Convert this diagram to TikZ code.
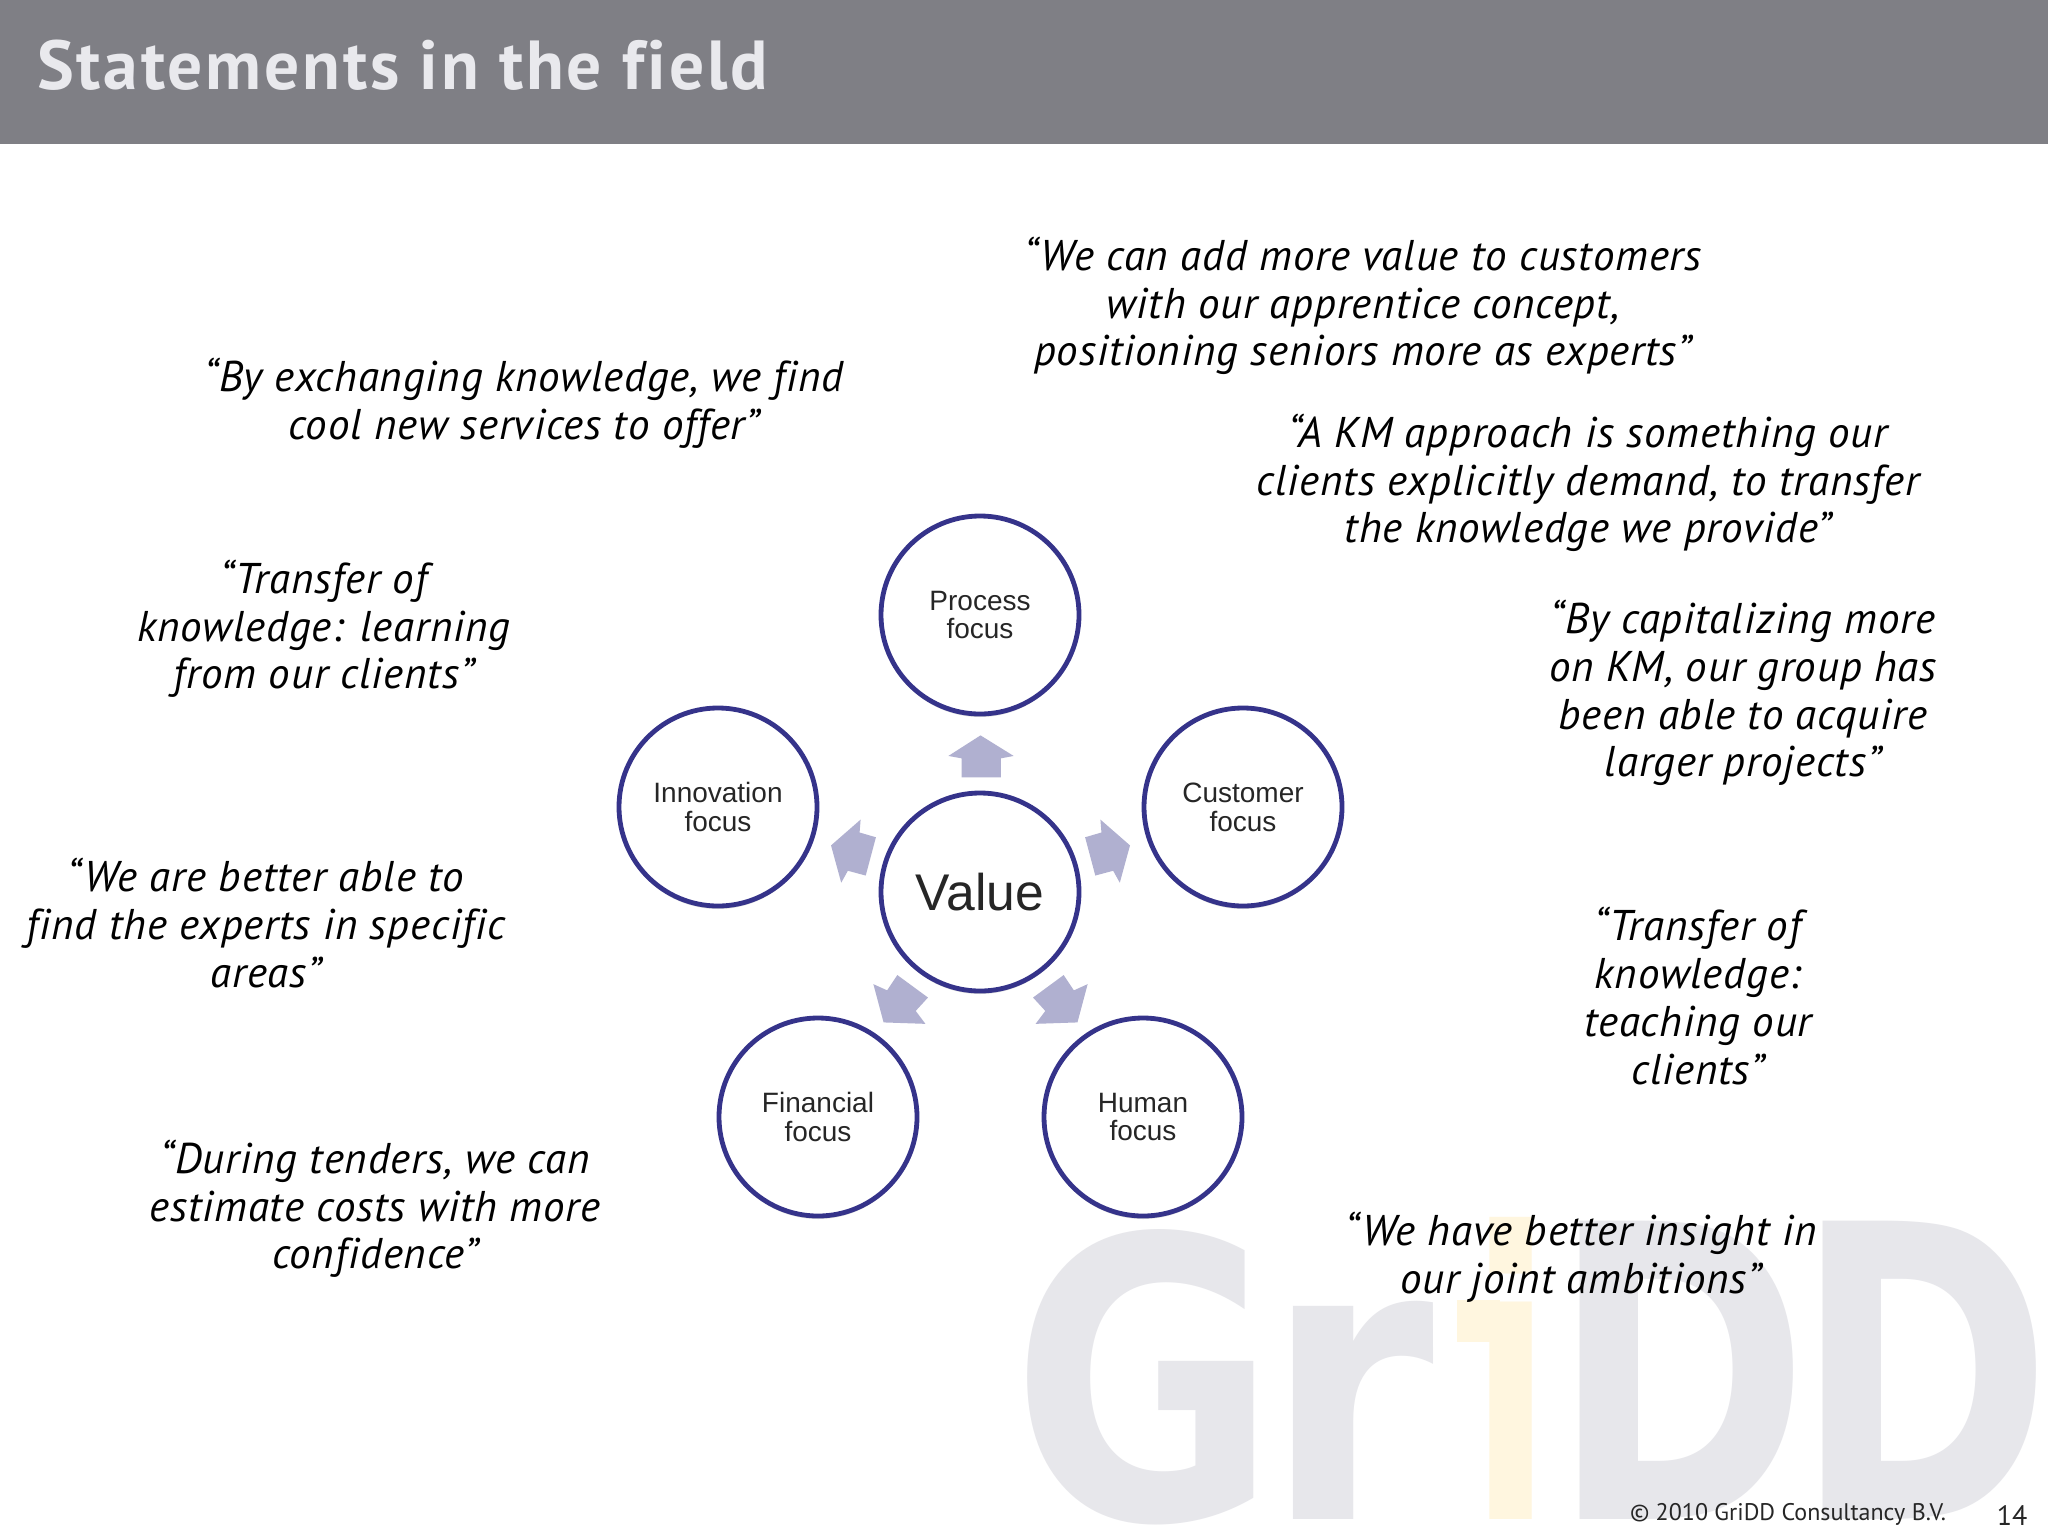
\documentclass[tikz,border=0pt]{standalone}
\usepackage{fontspec}
\usepackage{graphicx}
\setmainfont{PT Sans}
\newfontfamily\quotefont[LetterSpace=2,Ligatures=NoCommon]{PT Sans}
\newfontfamily\titlefont[LetterSpace=4,Ligatures=NoCommon]{PT Sans}
\newfontfamily\arialfont{Liberation Sans}
\newfontfamily\markfont{DejaVu Sans}
\usetikzlibrary{shadows}
\definecolor{headgray}{HTML}{7F7F85}
\definecolor{titlewhite}{HTML}{E9E9ED}
\definecolor{ringblue}{HTML}{35338A}
\definecolor{arrowblue}{HTML}{B0B0D0}
\definecolor{wmgray}{HTML}{E7E7EB}
\definecolor{wmyellow}{HTML}{FFF6DF}
\tikzset{
  x=0.5pt,y=-0.5pt,
  quote/.style={align=center,inner sep=0pt,font=\quotefont\fontsize{21.5}{23.85}\selectfont\itshape,text=black},
  ring/.style={circle,draw=ringblue,line width=2.4pt,fill=white,minimum size=99pt,inner sep=0pt,align=center,
     font=\arialfont\fontsize{14}{14.4}\selectfont,text=black!85,
     drop shadow={shadow xshift=0pt,shadow yshift=-1.5pt,opacity=.22,fill=black!60}},
  pent/.style={fill=arrowblue,draw=none},
}
\begin{document}
\begin{tikzpicture}
\useasboundingbox (0,0) rectangle (2048,1536);
\fill[white] (0,0) rectangle (2048,1536);
\fill[headgray] (0,0) rectangle (2048,143.6);
% watermark
\node[anchor=base west,inner sep=0pt,font=\markfont\bfseries,text=wmgray] (wm) at (1011,1519) {%
\resizebox{133pt}{145pt}{G}\hspace{-6.5pt}\resizebox{85pt}{109pt}{r}\hspace{17.5pt}\textcolor{wmyellow}{\resizebox{41.5pt}{151pt}{i}}\hspace{-0.5pt}\resizebox{129pt}{149pt}{D}\hspace{-7.5pt}\resizebox{129pt}{149pt}{D}};
\fill[wmyellow] (1457,1300) rectangle (1500,1342);
% title
\node[anchor=base west,inner sep=0pt,font=\titlefont\fontsize{34.7}{36}\selectfont\bfseries,text=titlewhite] (title) at (37,90) {Statements in the field};
% quotes
\node[quote] (q1) at (1363,306) {“We can add more value to customers\\with our apprentice concept,\\positioning seniors more as experts”};
\node[quote] (q2) at (1588,483) {“A KM approach is something our\\clients explicitly demand, to transfer\\the knowledge we provide”};
\node[quote] (q3) at (1743,693) {“By capitalizing more\\on KM, our group has\\been able to acquire\\larger projects”};
\node[quote] (q4) at (1698,996) {“Transfer of\\knowledge:\\teaching our\\clients”};
\node[quote] (q5) at (1581,1257) {“We have better insight in\\our joint ambitions”};
\node[quote] (q6) at (524,403) {“By exchanging knowledge, we find\\cool new services to offer”};
\node[quote] (q7) at (324,629) {“Transfer of\\knowledge: learning\\from our clients”};
\node[quote] (q8) at (266,923) {“We are better able to\\find the experts in specific\\areas”};
\node[quote] (q9) at (375,1209) {“During tenders, we can\\estimate costs with more\\confidence”};
% arrows, in the coordinates of the enlarged crop
\begin{scope}[shift={(580,500)},x=0.2551pt,y=-0.2392pt]
\fill[pent] (785,492)--(850,535)--(825,540)--(825,580)--(748,580)--(748,540)--(722,535)--cycle;
\fill[pent] (1078,722)--(1020,668)--(1022,695)--(990,705)--(1010,785)--(1045,775)--(1058,800)--cycle;
\fill[pent] (492,722)--(550,668)--(548,695)--(580,705)--(560,785)--(525,775)--(512,800)--cycle;
\fill[pent] (975,1092)--(893,1095)--(912,1068)--(888,1040)--(948,993)--(968,1025)--(995,1012)--cycle;
\fill[pent] (595,1092)--(677,1095)--(658,1068)--(682,1040)--(622,993)--(602,1025)--(575,1012)--cycle;
\end{scope}
% circles
\node[ring] (process) at (980,615) {\raisebox{-1.2pt}{Process}\\\raisebox{-1.2pt}{focus}};
\node[ring] (customer) at (1243,807) {Customer\\focus};
\node[ring] (innovation) at (718,807) {Innovation\\focus};
\node[ring] (financial) at (818,1117) {Financial\\focus};
\node[ring] (human) at (1143,1117) {Human\\focus};
\node[ring,font=\arialfont\fontsize{25.8}{28}\selectfont] (value) at (980,892) {Value};
% footer
\node[inner sep=0pt,font=\fontsize{12}{13}\selectfont,text=black!85] (foot) at (1788,1514) {© 2010 GriDD Consultancy B.V.};
\node[inner sep=0pt,font=\fontsize{14}{15}\selectfont,text=black!85] (num) at (2012,1516) {14};
\end{tikzpicture}
\end{document}
